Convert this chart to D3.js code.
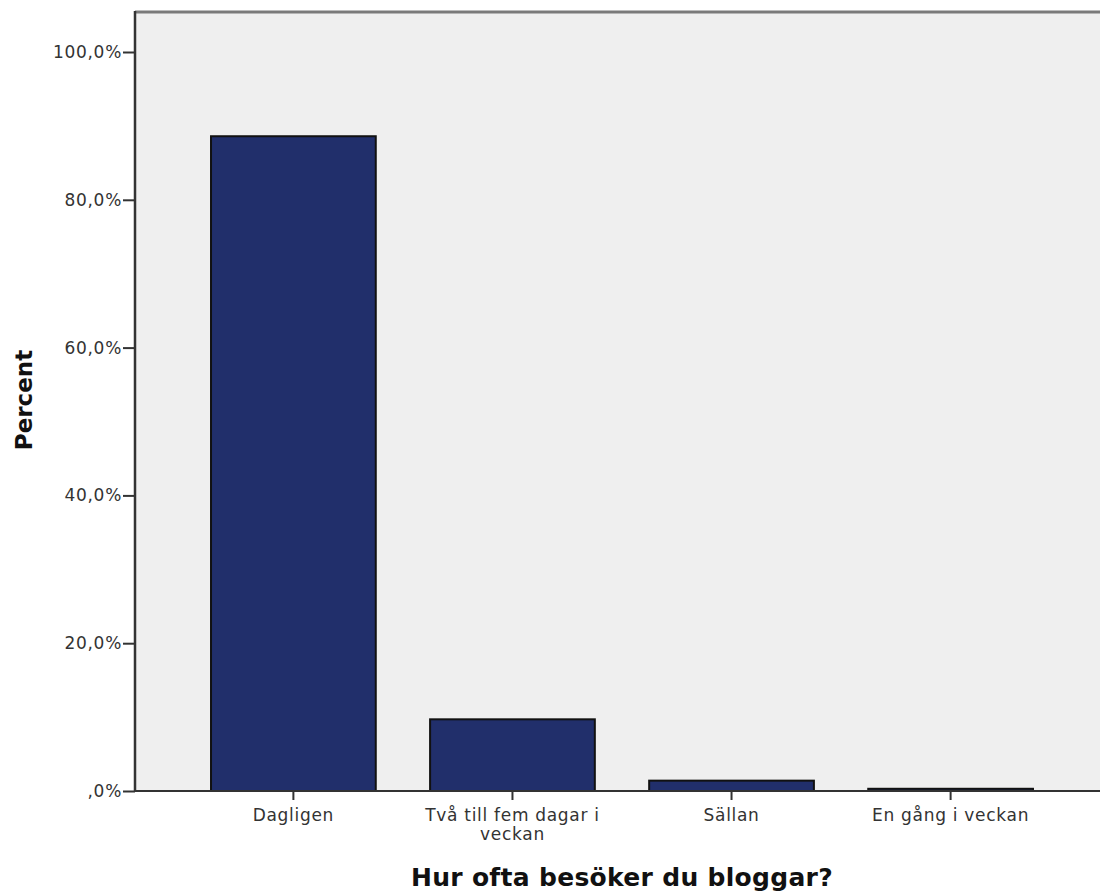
<!DOCTYPE html>
<html>
<head>
<meta charset="utf-8">
<script src="https://cdn.jsdelivr.net/npm/d3@7"></script>
<style>
  body { margin: 0; background: #fff; }
  svg { display: block; }
</style>
</head>
<body>
<div id="chart"></div>
<script>
// survey answers, percent of respondents
var categories = ['Dagligen', 'Två till fem dagar i veckan', 'Sällan', 'En gång i veckan'];
var percents = [88.6, 9.7, 1.4, 0.3];
var yTicks = [0, 20, 40, 60, 80, 100];
var yTickLabels = [',0%', '20,0%', '40,0%', '60,0%', '80,0%', '100,0%'];
// wrapped category labels as they appear under the axis
var catLines = [['Dagligen'], ['Två till fem dagar i', 'veckan'], ['Sällan'], ['En gång i veckan']];

var W = 1100, H = 893;
var plot = { left: 135, right: 1109, top: 12, bottom: 791 };

var svg = d3.select('#chart')
    .append('svg')
    .attr('width', W)
    .attr('height', H)

var x = d3.scaleBand()
    .domain(categories)
    .range([plot.left, plot.right])
    .paddingInner(0.248)
    .paddingOuter(0.347)

var y = d3.scaleLinear()
    .domain([0, 100])
    .range([plot.bottom, 52])

// plot background
svg.append('rect')
    .attr('x', plot.left)
    .attr('y', plot.top)
    .attr('width', plot.right - plot.left)
    .attr('height', plot.bottom - plot.top)
    .attr('fill', '#efefef')

// top frame line
svg.append('line')
    .attr('x1', plot.left).attr('x2', plot.right)
    .attr('y1', plot.top).attr('y2', plot.top)
    .attr('stroke', '#7a7a7a')
    .attr('stroke-width', 3)

// bars
svg.append('g').selectAll('rect')
    .data(percents)
    .enter()
    .append('rect')
    .attr('x', (d, i) => x(categories[i]))
    .attr('y', d => y(d))
    .attr('width', x.bandwidth())
    .attr('height', d => y(0) - y(d))
    .attr('fill', '#212f6b')
    .attr('stroke', '#111')
    .attr('stroke-width', 2)

// y axis
var yAxis = svg.append('g')
    .attr('transform', 'translate(' + plot.left + ',0)')
    .call(d3.axisLeft(y).tickValues(yTicks).tickSize(12).tickSizeOuter(0)
        .tickFormat((d, i) => yTickLabels[i]))

yAxis.select('.domain').remove()
yAxis.selectAll('line').attr('stroke', '#333').attr('stroke-width', 2)
yAxis.selectAll('text')
    .attr('x', -13)
    .attr('fill', '#333')
    .style('font-family', 'DejaVu Sans, sans-serif')
    .style('font-size', '17px')
    .style('letter-spacing', '0.7px')

svg.append('line')
    .attr('x1', plot.left).attr('x2', plot.left)
    .attr('y1', plot.top - 1).attr('y2', plot.bottom)
    .attr('stroke', '#333')
    .attr('stroke-width', 2.5)

// x axis
var xAxis = svg.append('g')
    .attr('transform', 'translate(0,' + plot.bottom + ')')
    .call(d3.axisBottom(x).tickSize(9).tickSizeOuter(0).tickFormat(''))

xAxis.select('.domain').attr('stroke', '#333').attr('stroke-width', 2)
    .attr('d', 'M' + plot.left + ',0H' + plot.right)
xAxis.selectAll('line').attr('stroke', '#333').attr('stroke-width', 2)

xAxis.selectAll('.tick').each(function(d, i) {
    var t = d3.select(this).append('text')
        .attr('fill', '#333')
        .attr('text-anchor', 'middle')
        .style('font-family', 'DejaVu Sans, sans-serif')
        .style('font-size', '17px')
        .style('letter-spacing', '0.7px')
    catLines[i].forEach(function(line, j) {
        t.append('tspan').attr('x', 0).attr('y', 30 + j * 19).text(line)
    })
})

// axis titles
svg.append('g')
    .attr('transform', 'translate(32,400) rotate(-90)')
    .append('text')
    .attr('text-anchor', 'middle')
    .attr('fill', '#111')
    .style('font-family', 'DejaVu Sans, sans-serif')
    .style('font-weight', 'bold')
    .style('font-size', '23px')
    .text('Percent')

svg.append('text')
    .attr('x', 622)
    .attr('y', 886)
    .attr('text-anchor', 'middle')
    .attr('fill', '#111')
    .style('font-family', 'DejaVu Sans, sans-serif')
    .style('font-weight', 'bold')
    .style('font-size', '25px')
    .style('letter-spacing', '0.3px')
    .text('Hur ofta besöker du bloggar?')
</script>
</body>
</html>
